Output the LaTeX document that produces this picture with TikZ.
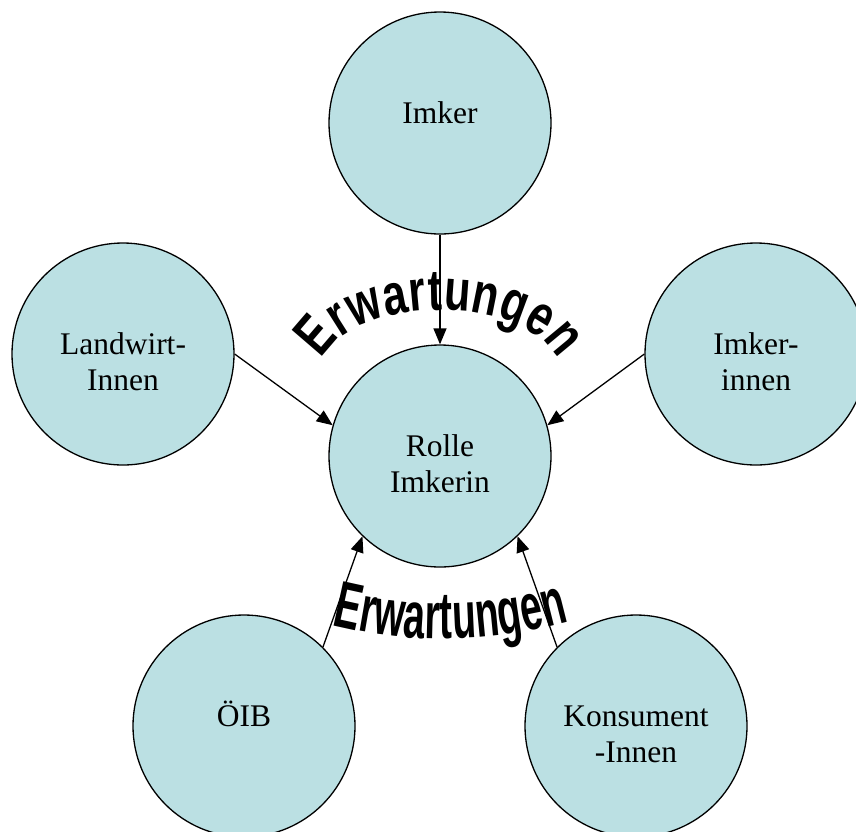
\documentclass[tikz,border=0pt]{standalone}
\usepackage{fontspec}
\setmainfont{Liberation Serif}
\newfontfamily\bogenfont{Liberation Sans}[UprightFont={* Bold}, FakeStretch=0.74]
\newfontfamily\bogenschmal{Liberation Sans}[UprightFont={* Bold}, FakeStretch=0.59]
\newcommand\knotenschrift{\fontsize{31.5}{36}\selectfont}
\newcommand\bogenoben{\bogenfont\fontsize{58}{58}\selectfont}
\newcommand\bogenunten{\bogenschmal\fontsize{66}{66}\selectfont}
\usetikzlibrary{arrows.meta,decorations.text}
\definecolor{kreis}{RGB}{187,224,227}
\tikzset{
  rund/.style={circle, draw, line width=1.3pt, fill=kreis, minimum size=222pt,
    inner sep=0pt, align=center, text height=0pt, text depth=0pt},
  zwei/.style={text height=72pt},
  pfeil/.style={-{Triangle[length=16pt,width=13pt]}, line width=1.3pt},
}
\begin{document}
\begin{tikzpicture}[x=1pt,y=1pt]
      \useasboundingbox (0,0) rectangle (856,-831);
      \draw[align=center,font=\knotenschrift]
        (440,-123) node[rund] (imker){Imker}
        (123,-354) node[rund,zwei] (landwirt){Landwirt-\\Innen}
        (756,-354) node[rund,zwei] (imkerinnen){Imker-\\innen}
        (440,-456) node[rund,zwei] (rolle){Rolle\\Imkerin}
        (244,-726) node[rund] (oib){ÖIB}
        (636,-726) node[rund,zwei] (konsument){Konsument\\-Innen};
      % Schriftbogen
      \path[decorate, decoration={text along path, text align={fit to path},
          text={|\bogenoben|Erwartungen}}]
        (321.6,-360) arc[start angle=166, end angle=14, x radius=122, y radius=66];
      \path[decorate, decoration={text along path, text align={fit to path},
          text={|\bogenunten|Erwartungen}}]
        (332,-625) arc[start angle=256, end angle=285.6, radius=464];
      \begin{scope}[pfeil]
        \draw (imker) to (rolle);
        \draw (landwirt.east) to (rolle.164);
        \draw (imkerinnen.west) to (rolle.16);
        \draw (oib.45) to (rolle.226);
        \draw (konsument.135) to (rolle.314);
      \end{scope}
    \end{tikzpicture}
\end{document}
